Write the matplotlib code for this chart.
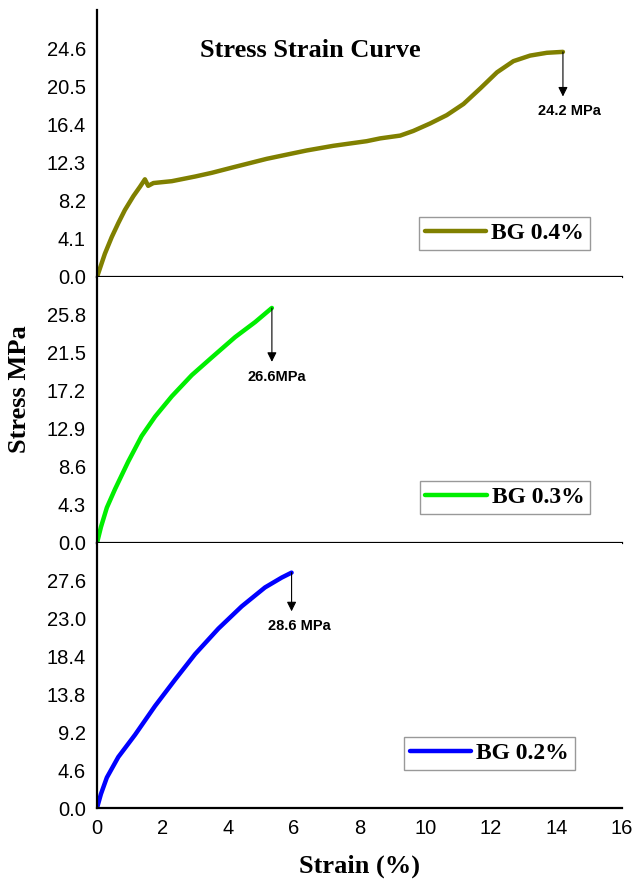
import matplotlib
matplotlib.use("Agg")
import matplotlib.pyplot as plt
from matplotlib.ticker import FixedLocator, FormatStrFormatter

# Strain (%) and stress (MPa) readings for each glass content
strain_04 = [0.0, 0.24, 0.45, 0.65, 0.85, 1.11, 1.31, 1.46, 1.56, 1.72, 2.28,
             2.99, 3.50, 4.16, 5.17, 5.98, 6.39, 7.20, 8.22, 8.63, 9.24, 9.64, 10.15,
             10.66, 11.17, 11.69, 12.19, 12.69, 13.20, 13.71, 14.20]
stress_04 = [0.0, 2.5, 4.3, 5.8, 7.2, 8.7, 9.7, 10.5, 9.8, 10.1, 10.3,
             10.8, 11.2, 11.8, 12.7, 13.3, 13.6, 14.1, 14.6, 14.9, 15.2, 15.7, 16.5,
             17.4, 18.6, 20.3, 22.0, 23.2, 23.8, 24.1, 24.2]

strain_03 = [0.0, 0.12, 0.30, 0.55, 0.95, 1.36, 1.77, 2.28, 2.89, 3.50, 4.21, 4.82, 5.33]
stress_03 = [0.0, 1.8, 4.0, 6.1, 9.2, 12.1, 14.3, 16.6, 19.0, 21.0, 23.3, 25.0, 26.6]

strain_02 = [0.0, 0.12, 0.30, 0.65, 1.16, 1.77, 2.38, 2.99, 3.70, 4.41, 5.12, 5.63, 5.93]
stress_02 = [0.0, 1.7, 3.7, 6.2, 8.9, 12.4, 15.6, 18.7, 21.8, 24.5, 26.8, 28.0, 28.6]

labels = ["BG 0.4%", "BG 0.3%", "BG 0.2%"]
colors = ["#808000", "#00EE00", "#0000FF"]
peak_text = ["24.2 MPa", "26.6MPa", "28.6 MPa"]
tick_steps = [4.1, 4.3, 4.6]
x_ticks = [0, 2, 4, 6, 8, 10, 12, 14, 16]

series = [(strain_04, stress_04), (strain_03, stress_03), (strain_02, stress_02)]

fig = plt.figure(figsize=(6.36, 8.84), dpi=100)
left, right = 97 / 636, 622 / 636
edges = [10, 277, 543, 808]

serif = ["Liberation Serif", "DejaVu Serif"]
sans = ["Liberation Sans", "DejaVu Sans"]

# arrow tip / label placement (data coords) per panel
arrow_tip = [19.4, 20.5, 23.9]
label_xy = [(14.4, 17.8), (5.48, 18.8), (6.16, 22.1)]
legend_anchor = [(0.776, 0.164), (0.777, 0.172), (0.747, 0.206)]

axes = []
for i, ((xs, ys), lab, col, step) in enumerate(zip(series, labels, colors, tick_steps)):
    top, bot = edges[i], edges[i + 1]
    ax = fig.add_axes([left, 1 - bot / 884, right - left, (bot - top) / 884])
    axes.append(ax)
    ax.plot(xs, ys, color=col, lw=3.2, label=lab, solid_capstyle="round",
            solid_joinstyle="round")
    ax.set_xlim(0, 16)
    ax.set_ylim(0, step * 7)
    ax.yaxis.set_major_locator(FixedLocator([step * k for k in range(7)]))
    ax.yaxis.set_major_formatter(FormatStrFormatter("%.1f"))
    ax.xaxis.set_major_locator(FixedLocator(x_ticks))
    for s in ("top", "right"):
        ax.spines[s].set_visible(False)
    for s in ("left", "bottom"):
        ax.spines[s].set_linewidth(1.6)
        ax.spines[s].set_color("black")
    ax.tick_params(axis="both", length=0, labelsize=14.5, pad=8)
    for t in ax.get_yticklabels() + ax.get_xticklabels():
        t.set_fontfamily(sans)
    if i < 2:
        ax.tick_params(axis="x", labelbottom=False)

    # peak marker arrow and value
    xe, ye = xs[-1], ys[-1]
    ax.annotate("", xy=(xe, arrow_tip[i]), xytext=(xe, ye),
                arrowprops=dict(arrowstyle="-|>", color="black", lw=0.8,
                                mutation_scale=14, shrinkA=0, shrinkB=0))
    ax.text(label_xy[i][0], label_xy[i][1], peak_text[i], ha="center", va="center",
            fontsize=10.5, fontweight="bold", family=sans)

    leg = ax.legend(loc="center", bbox_to_anchor=legend_anchor[i], frameon=True,
                    fancybox=False, handlelength=2.6, handletextpad=0.2,
                    borderpad=0.25, borderaxespad=0,
                    prop=dict(family=serif, weight="bold", size=17))
    leg.get_frame().set_edgecolor("#808080")
    leg.get_frame().set_linewidth(1.0)

axes[0].text(0.406, 0.85, "Stress Strain Curve", transform=axes[0].transAxes,
             ha="center", va="center", fontsize=19, fontweight="bold", family=serif)

fig.text(20 / 636, 1 - 389 / 884, "Stress MPa", rotation=90, ha="center", va="center",
         fontsize=19, fontweight="bold", family=serif)
fig.text(359.5 / 636, 1 - 866 / 884, "Strain (%)", ha="center", va="center",
         fontsize=19, fontweight="bold", family=serif)

fig.savefig("out.png", dpi=100)
